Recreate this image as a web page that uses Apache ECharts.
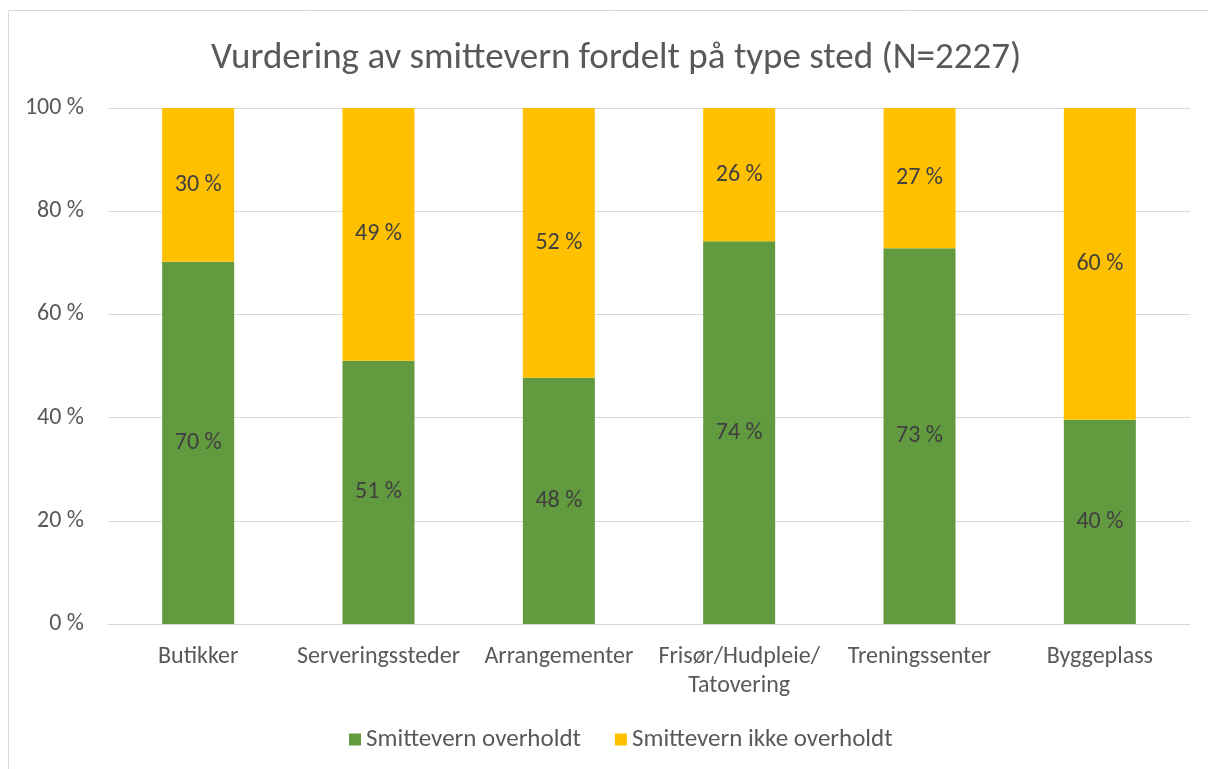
<!DOCTYPE html>
<html>
<head>
<meta charset="utf-8">
<script src="https://cdn.jsdelivr.net/npm/echarts@6/dist/echarts.min.js"></script>
<style>
html,body{margin:0;padding:0;background:#fff;}
#main{width:1208px;height:769px;}
</style>
</head>
<body>
<div id="main"></div>
<script>
// kategorier og verdier (andel i prosent)
var categories = ['Butikker', 'Serveringssteder', 'Arrangementer', 'Frisør/Hudpleie/\nTatovering', 'Treningssenter', 'Byggeplass'];
var overholdt = [70.2, 51.0, 47.7, 74.2, 72.8, 39.6];
var ikkeOverholdt = [29.8, 49.0, 52.3, 25.8, 27.2, 60.4];
var seriesNames = ['Smittevern overholdt', 'Smittevern ikke overholdt'];

var font = 'Carlito, Calibri, "Liberation Sans Narrow", "Open Sans", sans-serif';

var chart = echarts.init(document.getElementById('main'));
var option = {
    animation: false,
    title: {
        text: 'Vurdering av smittevern fordelt på type sted (N=2227)',
        left: 206,
        top: 35,
        textStyle: {fontFamily: font, fontSize: 37, fontWeight: 'normal', color: '#595959'}
    },
    graphic: [{
        type: 'rect',
        shape: {x: 8.5, y: 10.5, width: 1300, height: 900},
        style: {fill: 'none', stroke: '#d9d9d9', lineWidth: 1},
        silent: true
    }],
    legend: {
        bottom: 12,
        left: 344,
        itemWidth: 12,
        itemHeight: 12,
        itemGap: 34,
        icon: 'rect',
        textStyle: {fontFamily: font, fontSize: 25, color: '#595959'},
        data: seriesNames
    },
    grid: {left: 108, right: 18, top: 108, bottom: 145},
    xAxis: {
        type: 'category',
        data: categories,
        axisLine: {lineStyle: {color: '#d9d9d9'}},
        axisTick: {show: false},
        axisLabel: {fontFamily: font, fontSize: 24, color: '#595959', margin: 18, lineHeight: 29, interval: 0}
    },
    yAxis: {
        type: 'value',
        min: 0,
        max: 100,
        interval: 20,
        axisLine: {show: false},
        axisTick: {show: false},
        splitLine: {lineStyle: {color: '#d9d9d9', width: 1}},
        axisLabel: {fontFamily: font, fontSize: 24, color: '#595959', margin: 24, formatter: '{value} %'}
    },
    series: [{
        name: seriesNames[0],
        type: 'bar',
        stack: 'total',
        barWidth: 72,
        data: overholdt,
        itemStyle: {color: '#629a3f'},
        label: {
            show: true, position: 'inside', fontFamily: font, fontSize: 24, color: '#404040',
            formatter: function (p) { return Math.round(p.value) + ' %'; }
        }
    }, {
        name: seriesNames[1],
        type: 'bar',
        stack: 'total',
        barWidth: 72,
        data: ikkeOverholdt,
        itemStyle: {color: '#ffc000'},
        label: {
            show: true, position: 'inside', fontFamily: font, fontSize: 24, color: '#404040',
            formatter: function (p) { return Math.round(p.value) + ' %'; }
        }
    }]
};
chart.setOption(option);
</script>
</body>
</html>
